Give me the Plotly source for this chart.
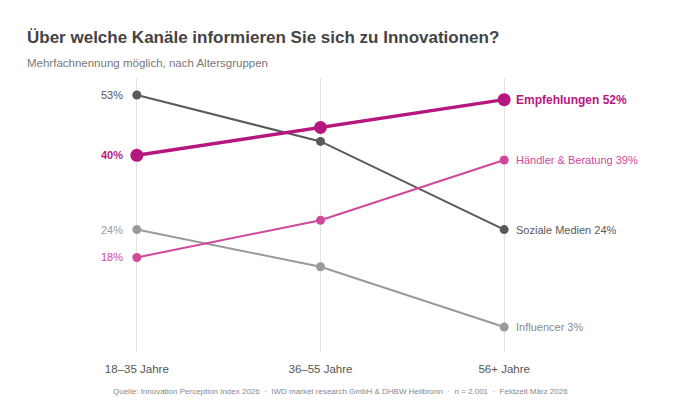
import plotly.graph_objects as go

categories = ["18–35 Jahre", "36–55 Jahre", "56+ Jahre"]
empfehlungen = [40, 46, 52]
haendler = [18, 26, 39]
soziale = [53, 43, 24]
influencer = [24, 16, 3]

series = [
    ("Soziale Medien", soziale, "#5a5a5a", 2, 9, False),
    ("Influencer", influencer, "#9a9a9a", 2, 9, False),
    ("Händler & Beratung", haendler, "#d0489a", 2, 9, False),
    ("Empfehlungen", empfehlungen, "#b5177f", 3.5, 13, True),
]

x = [0, 1, 2]
fig = go.Figure()
ann = []
for name, vals, col, w, ms, bold in series:
    fig.add_trace(go.Scatter(x=x, y=vals, mode="lines+markers",
                             line=dict(color=col, width=w),
                             marker=dict(color=col, size=ms), showlegend=False,
                             hoverinfo="skip"))
    t = f"{name} {vals[-1]}%"
    ann.append(dict(x=2, y=vals[-1], xref="x", yref="y", text=f"<b>{t}</b>" if bold else t,
                    xanchor="left", xshift=10, showarrow=False,
                    font=dict(size=12 if bold else 11, color=col if col != "#9a9a9a" else "#8a8a8a")))
    lt = f"{vals[0]}%"
    ann.append(dict(x=0, y=vals[0], xref="x", yref="y", text=f"<b>{lt}</b>" if bold else lt,
                    xanchor="right", xshift=-12, showarrow=False,
                    font=dict(size=11, color=col if col != "#5a5a5a" else "#555")))

# pixel positions (page offset of ~8px compensated)
ann += [
    dict(x=17, y=408 - 37 + 8, text="<b>Über welche Kanäle informieren Sie sich zu Innovationen?</b>",
         showarrow=False, xanchor="left", yanchor="middle", font=dict(size=17, color="#444")),
    dict(x=17, y=408 - 63 + 8, text="Mehrfachnennung möglich, nach Altersgruppen",
         showarrow=False, xanchor="left", yanchor="middle", font=dict(size=11.5, color="#777")),
    dict(x=332, y=408 - 391 + 8, text="Quelle: Innovation Perception Index 2026  ·  IWD market research GmbH & DHBW Heilbronn  ·  n = 2.001  ·  Feldzeit März 2026",
         showarrow=False, xanchor="center", yanchor="middle", font=dict(size=8, color="#888")),
]
W, H = 680, 408
l, r, t, b = 37, 92, 70, 64
for a in ann[-3:]:
    a["xref"] = "paper"; a["yref"] = "paper"
    a["x"] = (a["x"] - l) / (W - l - r)
    a["y"] = (a["y"] - b) / (H - t - b)

fig.update_layout(
    width=W, height=H, margin=dict(l=l, r=r, t=t, b=b),
    paper_bgcolor="white", plot_bgcolor="white",
    font=dict(family="Liberation Sans, Arial, sans-serif"),
    annotations=ann,
    xaxis=dict(range=[-0.5, 2.5], tickvals=x, ticktext=categories, showgrid=True,
               gridcolor="#e3e3e3", gridwidth=1, zeroline=False, showline=False,
               tickfont=dict(size=11.5, color="#555"), ticks="", ticklabelstandoff=8),
    yaxis=dict(range=[-2.37, 56.66], visible=False),
)
fig.write_html("out.html")
